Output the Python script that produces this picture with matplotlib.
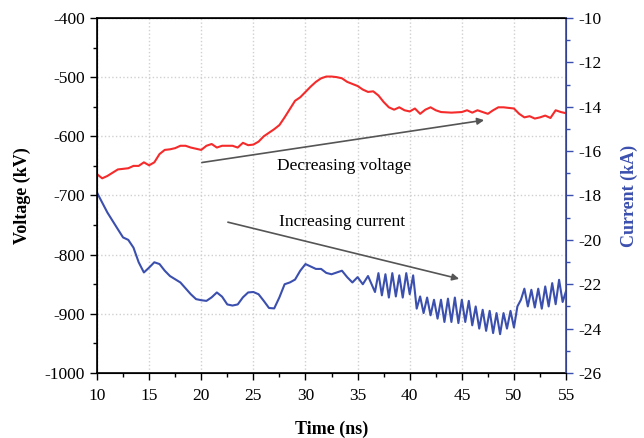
import matplotlib
matplotlib.use("Agg")
import matplotlib.pyplot as plt
from matplotlib.ticker import MultipleLocator

plt.rcParams['font.family'] = ['Liberation Serif', 'DejaVu Serif']
plt.rcParams['axes.unicode_minus'] = False

# Voltage (kV)
t_v = [10, 10.5, 11, 12, 13, 13.5, 14, 14.5, 15, 15.5, 16, 16.5, 17, 17.5, 18, 18.5, 19, 20,
       20.5, 21, 21.5, 22, 23, 23.5, 24, 24.5, 25, 25.5, 26, 27, 27.5, 28, 28.5, 29, 29.5, 30,
       30.5, 31, 31.5, 32, 32.5, 33, 33.5, 34, 35, 35.5, 36, 36.5, 37, 37.5, 38, 38.5, 39, 39.5,
       40, 40.5, 41, 41.5, 42, 42.5, 43, 44, 45, 45.5, 46, 46.5, 47, 47.5, 48, 48.5, 49, 50,
       50.5, 51, 51.5, 52, 52.5, 53, 53.5, 54, 54.5, 55]
voltage = [-664, -671, -667, -656, -654, -650, -650, -644, -649, -644, -630, -623, -622, -620,
           -616, -616, -619, -623, -616, -613, -619, -616, -616, -619, -611, -615, -614, -609,
           -600, -588, -581, -568, -554, -540, -534, -525, -516, -508, -502, -499, -499, -500,
           -502, -508, -515, -521, -525, -524, -531, -542, -551, -555, -551, -556, -558, -553,
           -562, -555, -551, -556, -559, -560, -559, -556, -560, -556, -559, -562, -556, -551,
           -551, -553, -562, -568, -566, -570, -568, -565, -569, -556, -559, -561]

# Current (kA)
t_i = [10, 10.5, 11, 12, 12.5, 13, 13.5, 14, 14.5, 15, 15.5, 16, 16.5, 17, 18, 19, 19.5, 20,
       20.5, 21, 21.5, 22, 22.5, 23, 23.5, 24, 24.5, 25, 25.5, 26, 26.5, 27, 27.5, 28, 28.5, 29,
       29.5, 30, 30.5, 31, 31.5, 32, 32.5, 33, 33.5, 34, 34.5, 35, 35.5, 36,
       36.67, 37, 37.33, 37.67, 38, 38.33, 38.67, 39, 39.33, 39.67, 40, 40.33, 40.67,
       41, 41.33, 41.67, 42, 42.33, 42.67, 43, 43.33, 43.67, 44, 44.33, 44.67,
       45, 45.33, 45.67, 46, 46.33, 46.67, 47, 47.33, 47.67, 48, 48.33, 48.67,
       49, 49.33, 49.67, 50, 50.33, 50.67, 51, 51.33, 51.67, 52, 52.33, 52.67,
       53, 53.33, 53.67, 54, 54.33, 54.67, 55]
current = [-17.87, -18.32, -18.77, -19.52, -19.89, -20.0, -20.35, -21.01, -21.47, -21.25,
           -21.01, -21.09, -21.39, -21.63, -21.92, -22.45, -22.67, -22.72, -22.75, -22.59,
           -22.37, -22.56, -22.91, -22.96, -22.91, -22.59, -22.37, -22.35, -22.45, -22.75,
           -23.07, -23.09, -22.59, -22.0, -21.92, -21.79, -21.39, -21.09, -21.2, -21.31,
           -21.31, -21.49, -21.55, -21.47, -21.39, -21.68, -21.92, -21.68, -22.0, -21.63,
           -22.35, -21.5, -22.5, -21.55, -22.6, -21.5, -22.55, -21.6, -22.6, -21.5, -22.45,
           -21.6, -23.1, -22.55, -23.3, -22.6, -23.4, -22.7, -23.55, -22.7, -23.7, -22.65,
           -23.7, -22.6, -23.75, -22.7, -23.7, -22.75, -23.85, -23.0, -24.0, -23.15, -24.1,
           -23.2, -24.2, -23.3, -24.25, -23.3, -24.0, -23.2, -23.95, -23.0, -22.7, -22.2,
           -23.0, -22.25, -23.05, -22.2, -23.1, -22.1, -23.0, -21.95, -22.9, -21.8, -22.8,
           -22.3]

RED = '#f52a2a'
BLUE = '#3b4fae'

fig = plt.figure(figsize=(6.44, 4.38), dpi=100)
ax = fig.add_axes([0.1506, 0.1484, 0.7284, 0.8106])
ax2 = ax.twinx()

ax.plot(t_v, voltage, color=RED, lw=1.5)
ax2.plot(t_i, current, color=BLUE, lw=1.5, solid_joinstyle='round')

ax.set_xlim(10, 55)
ax.set_ylim(-1000, -400)
ax2.set_ylim(-26, -10)

ax.xaxis.set_major_locator(MultipleLocator(5))
ax.xaxis.set_minor_locator(MultipleLocator(2.5))
ax.yaxis.set_major_locator(MultipleLocator(100))
ax.yaxis.set_minor_locator(MultipleLocator(50))
ax2.yaxis.set_major_locator(MultipleLocator(2))
ax2.yaxis.set_minor_locator(MultipleLocator(1))

ax.grid(True, which='major', color='#d0d0d0', linestyle=':', lw=1)
ax.set_axisbelow(True)

ax.tick_params(axis='both', which='major', direction='out', length=5, width=1, labelsize=12.5)
ax.tick_params(axis='x', which='major', pad=6)
ax.tick_params(axis='both', which='minor', direction='out', length=3, width=1)
ax2.tick_params(axis='y', which='major', direction='out', length=5, width=1, labelsize=12.5,
                colors=BLUE, labelcolor='black')
ax2.tick_params(axis='y', which='minor', direction='out', length=3, width=1, colors=BLUE)

for s in ['left', 'bottom', 'top']:
    ax.spines[s].set_linewidth(1.2)
ax2.spines['right'].set_color(BLUE)
ax2.spines['right'].set_linewidth(1.2)

ax.set_xlabel('Time (ns)', fontsize=13, fontweight='bold', labelpad=12)
ax.set_ylabel('Voltage (kV)', fontsize=13, fontweight='bold', labelpad=10)
ax2.set_ylabel('Current (kA)', fontsize=13, fontweight='bold', color=BLUE, labelpad=14)

arrow_kw = dict(arrowstyle='-|>', color='#555555', lw=1.2, mutation_scale=10)
ax.annotate('', xy=(47.4, -572), xytext=(19.8, -645), arrowprops=arrow_kw)
ax.annotate('', xy=(45.0, -842), xytext=(22.3, -744), arrowprops=arrow_kw)
ax.text(33.7, -650, 'Decreasing voltage', fontsize=12.5, ha='center', va='center')
ax.text(33.5, -745, 'Increasing current', fontsize=12.5, ha='center', va='center')

fig.savefig('out.png', dpi=100)
